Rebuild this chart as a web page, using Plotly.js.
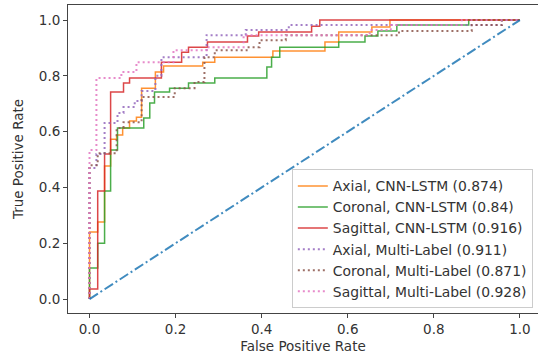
<!DOCTYPE html>
<html>
<head>
<meta charset="utf-8">
<script src="https://cdn.plot.ly/plotly-3.0.1.min.js"></script>
<style>html,body{margin:0;padding:0;background:#fff;}#chart{width:538px;height:362px;}</style>
</head>
<body>
<div id="chart"></div>
<script>
// Series labels
var seriesLabels = [
  "Axial, CNN-LSTM (0.874)",
  "Coronal, CNN-LSTM (0.84)",
  "Sagittal, CNN-LSTM (0.916)",
  "Axial, Multi-Label (0.911)",
  "Coronal, Multi-Label (0.871)",
  "Sagittal, Multi-Label (0.928)"
];

// ROC points (false positive rate / true positive rate)
var axialCnnFpr = [0,0,0.019,0.019,0.035,0.035,0.049,0.049,0.063,0.063,0.077,0.077,0.093,0.093,0.109,0.109,0.121,0.121,0.153,0.153,0.172,0.172,0.263,0.263,0.291,0.291,0.426,0.426,0.547,0.547,0.579,0.579,0.656,0.656,0.698,0.698,1];
var axialCnnTpr = [0,0.24,0.24,0.276,0.276,0.477,0.477,0.573,0.573,0.588,0.588,0.613,0.613,0.638,0.638,0.652,0.652,0.756,0.756,0.814,0.814,0.835,0.835,0.849,0.849,0.867,0.867,0.889,0.889,0.921,0.921,0.957,0.957,0.975,0.975,1,1];

var coronalCnnFpr = [0,0,0.019,0.019,0.035,0.035,0.049,0.049,0.065,0.065,0.126,0.126,0.140,0.140,0.151,0.151,0.186,0.186,0.230,0.230,0.291,0.291,0.412,0.412,0.423,0.423,0.442,0.442,0.579,0.579,0.640,0.640,0.670,0.670,0.714,0.714,0.881,0.881,1];
var coronalCnnTpr = [0,0.111,0.111,0.2,0.2,0.387,0.387,0.534,0.534,0.613,0.613,0.649,0.649,0.703,0.703,0.742,0.742,0.756,0.756,0.774,0.774,0.792,0.792,0.832,0.832,0.867,0.867,0.903,0.903,0.921,0.921,0.943,0.943,0.961,0.961,0.982,0.982,1,1];

var sagittalCnnFpr = [0,0,0.019,0.019,0.035,0.035,0.049,0.049,0.079,0.079,0.093,0.093,0.167,0.167,0.214,0.214,0.230,0.230,0.274,0.274,0.367,0.367,0.393,0.393,0.516,0.516,0.535,0.535,1];
var sagittalCnnTpr = [0,0.036,0.036,0.387,0.387,0.52,0.52,0.742,0.742,0.774,0.774,0.792,0.792,0.849,0.849,0.885,0.885,0.903,0.903,0.921,0.921,0.943,0.943,0.957,0.957,0.978,0.978,1,1];

var axialMlFpr = [0,0,0.016,0.016,0.035,0.035,0.065,0.065,0.079,0.079,0.105,0.105,0.121,0.121,0.153,0.153,0.167,0.167,0.272,0.272,0.363,0.363,0.463,0.463,0.958,0.958,1];
var axialMlTpr = [0,0.47,0.47,0.52,0.52,0.631,0.631,0.667,0.667,0.688,0.688,0.71,0.71,0.746,0.746,0.80,0.80,0.867,0.867,0.946,0.946,0.964,0.964,0.982,0.982,1,1];

var coronalMlFpr = [0,0,0.019,0.019,0.063,0.063,0.079,0.079,0.121,0.121,0.198,0.198,0.244,0.244,0.267,0.267,0.291,0.291,0.365,0.365,0.395,0.395,0.456,0.456,0.719,0.719,0.888,0.888,0.958,0.958,1];
var coronalMlTpr = [0,0.48,0.48,0.523,0.523,0.613,0.613,0.634,0.634,0.724,0.724,0.756,0.756,0.778,0.778,0.867,0.867,0.892,0.892,0.903,0.903,0.928,0.928,0.946,0.946,0.961,0.961,0.982,0.982,1,1];

var sagittalMlFpr = [0,0,0.016,0.016,0.074,0.074,0.109,0.109,0.195,0.195,0.272,0.272,0.358,0.358,0.651,0.651,0.700,0.700,0.865,0.865,1];
var sagittalMlTpr = [0,0.534,0.534,0.792,0.792,0.814,0.814,0.849,0.849,0.892,0.892,0.903,0.903,0.946,0.946,0.964,0.964,0.982,0.982,1,1];

var chanceX = [0, 1];
var chanceY = [0, 1];

var xTickVals = [0, 0.2, 0.4, 0.6, 0.8, 1.0];
var xTickText = ["0.0", "0.2", "0.4", "0.6", "0.8", "1.0"];
var yTickVals = [0, 0.2, 0.4, 0.6, 0.8, 1.0];
var yTickText = ["0.0", "0.2", "0.4", "0.6", "0.8", "1.0"];

var dotDash = "2px,3px";
var traces = [
  {x: axialCnnFpr, y: axialCnnTpr, name: seriesLabels[0], line: {color: "#ff7f0e", width: 1.5}},
  {x: coronalCnnFpr, y: coronalCnnTpr, name: seriesLabels[1], line: {color: "#2ca02c", width: 1.5}},
  {x: sagittalCnnFpr, y: sagittalCnnTpr, name: seriesLabels[2], line: {color: "#d62728", width: 1.5}},
  {x: axialMlFpr, y: axialMlTpr, name: seriesLabels[3], line: {color: "#9467bd", width: 2, dash: dotDash}},
  {x: coronalMlFpr, y: coronalMlTpr, name: seriesLabels[4], line: {color: "#8c564b", width: 2, dash: dotDash}},
  {x: sagittalMlFpr, y: sagittalMlTpr, name: seriesLabels[5], line: {color: "#e377c2", width: 2, dash: dotDash}},
  {x: chanceX, y: chanceY, showlegend: false, line: {color: "#1f77b4", width: 2, dash: "10px,3px,2px,3px"}}
];
traces.forEach(function (t) { t.type = "scatter"; t.mode = "lines"; t.opacity = 0.85; t.hoverinfo = "skip"; });

var fontFam = "DejaVu Sans, sans-serif";
var layout = {
  width: 538, height: 362,
  margin: {l: 68, r: 0, t: 5, b: 49},
  paper_bgcolor: "#ffffff", plot_bgcolor: "#ffffff",
  font: {family: fontFam, size: 13.5, color: "#333333"},
  showlegend: true,
  xaxis: {
    range: [-0.05, 1.042], tickvals: xTickVals, ticktext: xTickText,
    showgrid: false, zeroline: false, showline: true, mirror: true,
    linecolor: "#444444", linewidth: 1, ticks: "outside", ticklen: 4, tickcolor: "#444444",
    title: {text: "False Positive Rate", font: {size: 13.5, color: "#333333"}, standoff: 5},
    tickfont: {size: 13.5, color: "#333333"}
  },
  yaxis: {
    range: [-0.05, 1.054], tickvals: yTickVals, ticktext: yTickText,
    showgrid: false, zeroline: false, showline: true, mirror: false,
    linecolor: "#444444", linewidth: 1, ticks: "outside", ticklen: 4, tickcolor: "#444444",
    title: {text: "True Positive Rate", font: {size: 13.5, color: "#333333"}, standoff: 12},
    tickfont: {size: 13.5, color: "#333333"}
  },
  legend: {
    x: 0.989, y: 0.015, xanchor: "right", yanchor: "bottom",
    bgcolor: "rgba(255,255,255,0.8)", bordercolor: "#cccccc", borderwidth: 1,
    font: {family: fontFam, size: 13.9, color: "#333333"},
    itemwidth: 30
  }
};

Plotly.newPlot("chart", traces, layout, {displayModeBar: false, staticPlot: true});
</script>
</body>
</html>
